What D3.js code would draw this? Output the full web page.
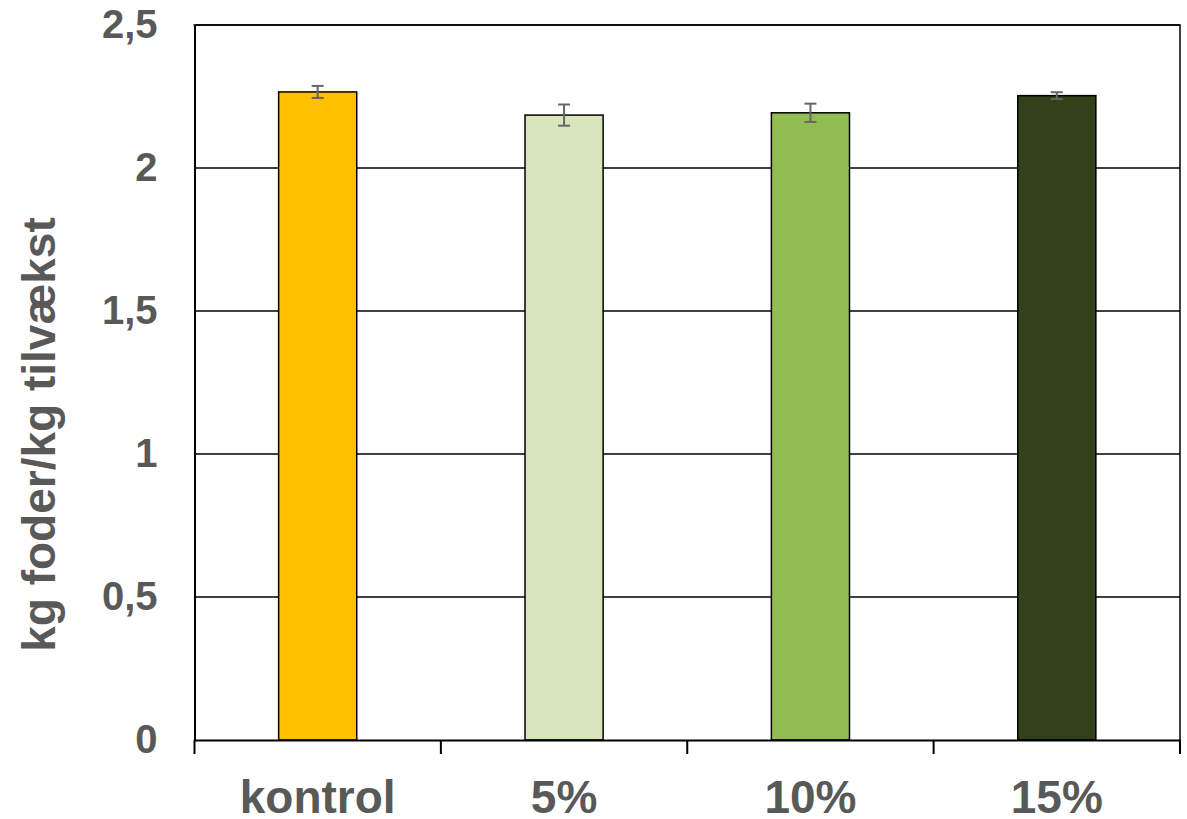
<!DOCTYPE html>
<html>
<head>
<meta charset="utf-8">
<script src="https://cdn.jsdelivr.net/npm/d3@7"></script>
<style>
  html, body { margin: 0; padding: 0; background: #fff; }
  svg { display: block; }
  text { font-family: "Liberation Sans", Arial, sans-serif; font-weight: bold; fill: #595959; }
</style>
</head>
<body>
<svg id="chart" width="1187" height="819"></svg>
<script>
const categories = ["kontrol", "5%", "10%", "15%"];
const values = [2.266, 2.185, 2.193, 2.253];
const errors = [0.021, 0.037, 0.032, 0.012];
const colors = ["#FFC000", "#D8E4BC", "#92BD52", "#31411A"];
const yTicks = [0, 0.5, 1, 1.5, 2, 2.5];
const yTickLabels = ["0", "0,5", "1", "1,5", "2", "2,5"];
const yTitle = "kg foder/kg tilvækst";

(function () {
const svg = d3.select("#chart");
const pLeft = 194.5, pRight = 1180, pTop = 25, pBottom = 740;

const x = d3.scaleBand().domain(categories).range([pLeft, pRight]).paddingInner(0).paddingOuter(0);
const y = d3.scaleLinear().domain([0, 2.5]).range([pBottom, pTop]);
const barW = x.bandwidth() * 0.317;

// gridlines
svg.append("g").selectAll("line").data(yTicks.filter(d => d > 0)).join("line")
  .attr("x1", pLeft).attr("x2", pRight)
  .attr("y1", d => y(d)).attr("y2", d => y(d))
  .attr("stroke", "#000").attr("stroke-width", 1.3);

// right border
svg.append("line").attr("x1", pRight).attr("x2", pRight).attr("y1", pTop).attr("y2", pBottom)
  .attr("stroke", "#000").attr("stroke-width", 1.5);

// bars
svg.append("g").selectAll("rect").data(categories).join("rect")
  .attr("x", d => x(d) + (x.bandwidth() - barW) / 2)
  .attr("width", barW)
  .attr("y", (d, i) => y(values[i]))
  .attr("height", (d, i) => y(0) - y(values[i]))
  .attr("fill", (d, i) => colors[i])
  .attr("stroke", "#000").attr("stroke-width", 1.5);

// error bars
const eg = svg.append("g").attr("stroke", "#666").attr("stroke-width", 2);
categories.forEach((c, i) => {
  const cx = x(c) + x.bandwidth() / 2;
  const y1 = y(values[i] + errors[i]), y2 = y(values[i] - errors[i]);
  eg.append("line").attr("x1", cx).attr("x2", cx).attr("y1", y1).attr("y2", y2);
  eg.append("line").attr("x1", cx - 6).attr("x2", cx + 6).attr("y1", y1).attr("y2", y1);
  eg.append("line").attr("x1", cx - 6).attr("x2", cx + 6).attr("y1", y2).attr("y2", y2);
});

// y axis
const yAxis = d3.axisLeft(y).tickValues(yTicks).tickSize(0).tickPadding(37)
  .tickFormat((d, i) => yTickLabels[i]);
const ya = svg.append("g").attr("transform", `translate(${pLeft},0)`).call(yAxis);
ya.select(".domain").attr("stroke", "#000").attr("stroke-width", 2);
ya.selectAll("text").attr("font-size", 40).attr("fill", "#595959")
  .attr("font-family", "Liberation Sans, Arial, sans-serif").attr("font-weight", "bold");

// x axis
const xAxis = d3.axisBottom(x).tickSize(0).tickSizeOuter(0).tickFormat("");
const xa = svg.append("g").attr("transform", `translate(0,${pBottom})`).call(xAxis);
xa.select(".domain").attr("stroke", "#000").attr("stroke-width", 2);
const bounds = categories.map(c => x(c)).concat([pRight]);
xa.selectAll(".bt").data(bounds).join("line").attr("class", "bt")
  .attr("x1", d => d).attr("x2", d => d).attr("y1", 0).attr("y2", 14)
  .attr("stroke", "#000").attr("stroke-width", 2);
xa.selectAll(".cl").data(categories).join("text").attr("class", "cl")
  .attr("x", d => x(d) + x.bandwidth() / 2).attr("y", 73)
  .attr("text-anchor", "middle").attr("font-size", 46).text(d => d);

// top border
svg.append("line").attr("x1", pLeft - 1).attr("x2", pRight + 0.75).attr("y1", pTop).attr("y2", pTop)
  .attr("stroke", "#000").attr("stroke-width", 1.5);

// y title
svg.append("text").attr("transform", `translate(55,${(pTop + pBottom) / 2 + 52}) rotate(-90)`)
  .attr("text-anchor", "middle").attr("font-size", 46).text(yTitle);
})();
</script>
</body>
</html>
